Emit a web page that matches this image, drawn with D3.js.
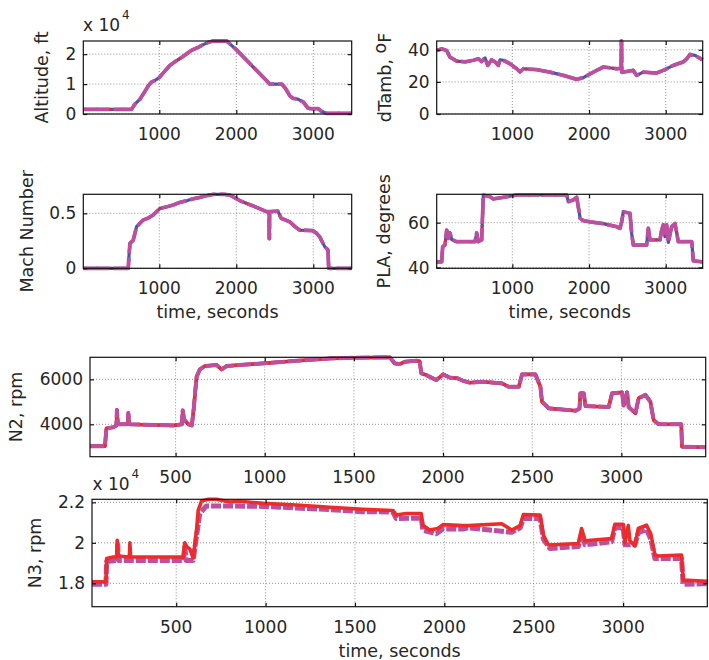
<!DOCTYPE html>
<html><head><meta charset="utf-8">
<script src="https://cdn.jsdelivr.net/npm/d3@7"></script>
<style>
body{margin:0;background:#fff}
svg text{font-family:"DejaVu Sans",sans-serif;fill:#262626}
</style>
</head><body>
<svg id="chart" width="709" height="660"></svg>
<script>
// ---------- DATA ----------
const altT = [13,640,680,750,800,860,900,944,1000,1060,1140,1200,1300,1420,1500,1570,1640,1700,1875,1996,2437,2590,2640,2697,2740,2800,2870,2930,2960,3065,3100,3174,3499];
const altV = [1570,1570,3200,5000,7000,9500,10700,11200,12200,14000,16300,17400,19100,21300,22200,23200,24000,24400,24400,21600,10000,10000,8500,6000,5200,5000,4000,2000,1800,1800,1000,200,200];

const dtT = [14,79,144,187,275,383,491,556,600,644,679,731,774,818,840,883,970,1057,1100,1144,1318,1491,1665,1839,1926,2056,2186,2360,2418,2421,2424,2428,2577,2620,2707,2882,2969,3099,3230,3273,3317,3382,3482];
const dtV = [39.6,40.6,39.6,35.4,33,32.5,33.5,34.4,32.7,35,30.3,33.8,32.5,30.3,33.8,33.5,31.3,28.2,26.2,28.2,27.6,26.1,24.1,21.6,22.7,26.1,29.3,28.2,28.5,45.5,45.5,26,27.2,24.1,26.1,25.5,27.2,30.3,32.5,34.4,37.1,36.5,33.8];

const machT = [13,597,605,619,662,705,750,792,850,922,1009,1100,1182,1270,1355,1440,1528,1620,1701,1850,1918,2048,2221,2395,2425,2427,2431,2433,2540,2583,2692,2760,2822,2996,3040,3083,3148,3191,3200,3499];
const machV = [0,0,0.1,0.227,0.257,0.378,0.41,0.44,0.455,0.485,0.545,0.56,0.576,0.6,0.615,0.632,0.645,0.662,0.673,0.673,0.665,0.615,0.567,0.515,0.515,0.27,0.27,0.515,0.52,0.455,0.424,0.38,0.348,0.342,0.32,0.287,0.197,0.167,0,0];

const plaT = [14,79,92,122,144,166,187,209,275,513,535,556,600,622,709,752,926,1057,1709,1730,1796,1839,1874,1883,1926,2013,2186,2360,2404,2426,2447,2534,2556,2577,2751,2773,2795,2925,2947,2969,2990,3012,3034,3077,3121,3164,3230,3339,3360,3482];
const plaV = [42.5,42.5,49.2,50,56.7,53,55.4,52.5,51.5,51.5,55.4,51.5,52.3,72.4,71.6,70.6,71.6,72.4,72.4,69.4,70.2,71.4,64.2,62,60.9,60.4,59.6,58.2,57.5,60.4,64.9,64.2,55.2,50,50,57.5,52.3,52.3,56.7,59,53.7,59,51.2,58.2,59.6,51.5,51.5,51.5,42.9,42.5];

const n2T = [20,104,112,151,168,171,176,184,232,235,240,487,535,540,548,572,591,603,609,618,636,664,730,758,786,857,991,1178,1365,1500,1701,1729,1757,1785,1850,1869,1878,1906,1962,2000,2037,2080,2112,2150,2219,2331,2368,2425,2443,2518,2546,2555,2593,2743,2765,2770,2789,2799,2929,2948,3004,3013,3032,3041,3079,3097,3135,3163,3181,3209,3336,3340,3473];
const n2V = [3030,3030,3822,3870,3950,4640,4050,4000,4000,4500,4000,3950,4000,4620,4210,4000,3950,4782,5378,6115,6440,6590,6640,6440,6590,6640,6710,6826,6930,6960,6980,6710,6680,6780,6830,6800,6266,6190,5970,6220,6080,6050,5935,5850,5893,5820,5670,5670,6220,6220,5670,5005,4710,4605,4700,5378,5378,4810,4770,5380,5420,4840,5420,4770,4490,5160,5310,5000,4190,4000,4000,3005,2980];

const n3RedT = [29,107,111,148,167,170,174,238,241,245,539,545,548,560,576,595,614,623,642,680,725,800,855,986,1173,1359,1545,1712,1731,1787,1871,1880,1917,1964,1992,2103,2135,2321,2377,2424,2442,2536,2554,2582,2750,2768,2787,2936,2954,3001,3010,3029,3038,3066,3085,3131,3155,3178,3197,3327,3336,3471];
const n3RedV = [18070,18070,19230,19300,19300,20130,19350,19300,20000,19300,19300,19800,20000,19800,19700,19250,20630,21600,22070,22150,22150,22020,22050,21950,21870,21760,21660,21600,21370,21450,21450,20870,20630,20710,20900,20850,20850,20940,20630,20850,21400,21370,20380,19890,19970,20710,20100,20210,20920,20920,20000,20850,20100,19850,20710,20870,20450,19400,19350,19400,18160,18100];

const n3MagT = [29,107,111,170,173,177,541,548,556,595,614,632,669,818,986,1173,1359,1545,1712,1731,1871,1880,1955,1992,2103,2135,2377,2424,2442,2536,2554,2591,2750,2768,2787,2936,2954,3001,3010,3038,3066,3085,3131,3155,3178,3327,3336,3457,3471];
const n3MagV = [17950,17950,19080,19130,19900,19130,19130,19800,19130,19130,20350,21450,21820,21820,21800,21720,21640,21540,21520,21200,21230,20620,20450,20680,20680,20740,20520,20740,21200,21200,20180,19720,19820,20500,19900,20050,20760,20720,19900,19900,19900,20500,20660,20180,19220,19220,17950,17980,17980];

const xTicksSmall = [1000,2000,3000];
const xTicksWide = [500,1000,1500,2000,2500,3000];
const altTicks = [0,10000,20000];
const dtTicks = [0,20,40];
const machTicks = [0,0.5];
const plaTicks = [40,60];
const n2Ticks = [4000,6000];
const n3Ticks = [18000,20000,22000];

// ---------- DRAW ----------
const svg = d3.select("#chart");
const MAG = "#bd4f9e", RED = "#ee2a2a", BLUE = "#3a5cb0";

function panel(c) {
  const x = d3.scaleLinear().domain(c.xdom).range([c.x0, c.x1]);
  const y = d3.scaleLinear().domain(c.ydom).range([c.y1, c.y0]);
  const g = svg.append("g");
  g.selectAll(".gx").data(c.xticks).join("line")
    .attr("x1", d => x(d)).attr("x2", d => x(d)).attr("y1", c.y0).attr("y2", c.y1)
    .attr("stroke", "#7a7a7a").attr("stroke-width", 0.8).attr("stroke-dasharray", "1,2");
  g.selectAll(".gy").data(c.yticks).join("line")
    .attr("x1", c.x0).attr("x2", c.x1).attr("y1", d => y(d)).attr("y2", d => y(d))
    .attr("stroke", "#7a7a7a").attr("stroke-width", 0.8).attr("stroke-dasharray", "1,2");
  c.series.forEach(s => {
    const pts = s.t.map((t, i) => [t, s.v[i]]);
    const line = d3.line().x(d => x(d[0])).y(d => y(d[1]));
    g.append("path").datum(pts).attr("d", line).attr("fill", "none")
      .attr("stroke", s.color).attr("stroke-width", s.w)
      .attr("stroke-dasharray", s.dash || null)
      .attr("stroke-linejoin", "round");
  });
  g.append("rect").attr("x", c.x0).attr("y", c.y0).attr("width", c.x1 - c.x0).attr("height", c.y1 - c.y0)
    .attr("fill", "none").attr("stroke", "#111").attr("stroke-width", 1.2);
  const tl = 4;
  const axB = g.append("g").attr("transform", `translate(0,${c.y1})`).call(d3.axisTop(x).tickValues(c.xticks).tickSize(tl).tickFormat(""));
  const axT = g.append("g").attr("transform", `translate(0,${c.y0})`).call(d3.axisBottom(x).tickValues(c.xticks).tickSize(tl).tickFormat(""));
  const axL = g.append("g").attr("transform", `translate(${c.x0},0)`).call(d3.axisRight(y).tickValues(c.yticks).tickSize(tl).tickFormat(""));
  const axR = g.append("g").attr("transform", `translate(${c.x1},0)`).call(d3.axisLeft(y).tickValues(c.yticks).tickSize(tl).tickFormat(""));
  [axB, axT, axL, axR].forEach(a => { a.select(".domain").remove(); a.selectAll("line").attr("stroke", "#111").attr("stroke-width", 1.2); });
  g.selectAll(".xl").data(c.xticks).join("text")
    .attr("x", d => x(d)).attr("y", c.y1 + 26).attr("text-anchor", "middle")
    .attr("font-size", 17).text(d => d);
  g.selectAll(".yl").data(c.yticks).join("text")
    .attr("x", c.x0 - 7).attr("y", d => y(d)).attr("dy", "0.36em").attr("text-anchor", "end")
    .attr("font-size", 17).text(c.yfmt);
  const yl = g.append("text")
    .attr("transform", `translate(${c.ylx},${(c.y0 + c.y1) / 2}) rotate(-90)`)
    .attr("text-anchor", "middle").attr("font-size", 17.5);
  if (c.ylabelParts) {
    c.ylabelParts.forEach(p => { const ts = yl.append("tspan").text(p.t); if (p.dy) ts.attr("dy", p.dy); });
  } else yl.text(c.ylabel);
  if (c.xlabel) {
    g.append("text").attr("x", (c.x0 + c.x1) / 2).attr("y", c.y1 + 50)
      .attr("text-anchor", "middle").attr("font-size", 17.5).text(c.xlabel);
  }
  if (c.expo) {
    const t = g.append("text").attr("x", c.expo[0]).attr("y", c.expo[1]).attr("font-size", 17);
    t.append("tspan").text("x 10");
    t.append("tspan").attr("dy", -12).attr("font-size", 12).attr("dx", 2).text("4");
  }
}

function triple(t, v) {
  return [
    {t, v, color: BLUE, w: 3.2},
    {t, v, color: RED, w: 3.2, dash: "2,11"},
    {t, v, color: MAG, w: 3.8, dash: "26,4"}
  ];
}

panel({x0: 83.3, x1: 351.7, y0: 41, y1: 114, xdom: [13, 3499], ydom: [0, 24400],
  xticks: xTicksSmall, yticks: altTicks, yfmt: d => d / 10000,
  ylabel: "Altitude, ft", ylx: 48, expo: [83, 30.7], series: triple(altT, altV)});

panel({x0: 436.7, x1: 702.7, y0: 41, y1: 114, xdom: [14, 3482], ydom: [0, 45.5],
  xticks: xTicksSmall, yticks: dtTicks, yfmt: d => d,
  ylabelParts: [{t: "dTamb, "}, {t: "o", dy: -5}, {t: "F", dy: 5}], ylx: 391, series: triple(dtT, dtV)});

panel({x0: 83.3, x1: 351.7, y0: 194.3, y1: 268.3, xdom: [13, 3499], ydom: [0, 0.673],
  xticks: xTicksSmall, yticks: machTicks, yfmt: d => d,
  ylabel: "Mach Number", ylx: 33, xlabel: "time, seconds", series: triple(machT, machV)});

panel({x0: 436.7, x1: 702.7, y0: 194.3, y1: 268.3, xdom: [14, 3482], ydom: [39.6, 72.7],
  xticks: xTicksSmall, yticks: plaTicks, yfmt: d => d,
  ylabel: "PLA, degrees", ylx: 390, xlabel: "time, seconds", series: triple(plaT, plaV)});

panel({x0: 90, x1: 705.7, y0: 357.3, y1: 456.7, xdom: [20, 3473], ydom: [2560, 6980],
  xticks: xTicksWide, yticks: n2Ticks, yfmt: d => d,
  ylabel: "N2, rpm", ylx: 22, series: [
    {t: n2T, v: n2V, color: BLUE, w: 3.2},
    {t: n2T, v: n2V, color: RED, w: 3.6},
    {t: n2T, v: n2V, color: MAG, w: 4, dash: "14,3"}
  ]});

panel({x0: 92, x1: 707.3, y0: 499.3, y1: 606.7, xdom: [29, 3471], ydom: [16845, 22150],
  xticks: xTicksWide, yticks: n3Ticks, yfmt: d => d / 10000,
  ylabel: "N3, rpm", ylx: 41, xlabel: "time, seconds", expo: [92.5, 490], series: [
    {t: n3MagT, v: n3MagV, color: MAG, w: 5, dash: "10,2"},
    {t: n3RedT, v: n3RedV, color: RED, w: 3.6}
  ]});
</script>
</body></html>
